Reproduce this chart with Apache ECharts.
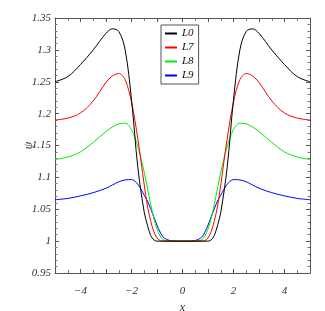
<!DOCTYPE html>
<html>
<head>
<meta charset="utf-8">
<script src="https://cdn.jsdelivr.net/npm/echarts@6/dist/echarts.min.js"></script>
<style>
html,body{margin:0;padding:0;background:#fff;}
#c{width:325px;height:311px;}
</style>
</head>
<body>
<div id="c"></div>
<script>
var xs = [-5,-4.5,-4,-3.5,-3,-2.75,-2.5,-2.25,-2,-1.75,-1.5,-1.375,-1.25,-1.125,-1,-0.875,-0.75,-0.5,-0.25,0,0.25,0.5,0.75,0.875,1,1.125,1.25,1.375,1.5,1.75,2,2.25,2.5,2.75,3,3.5,4,4.5,5];
var seriesNames = ['L0','L7','L8','L9'];
var L0 = [1.250,1.258,1.277,1.300,1.326,1.333,1.329,1.300,1.222,1.115,1.045,1.025,1.009,1.002,1.000,1.000,1.000,1.000,1.000,1.000,1.000,1.000,1.000,1.000,1.000,1.002,1.009,1.025,1.045,1.115,1.222,1.300,1.329,1.333,1.326,1.300,1.277,1.258,1.250];
var L7 = [1.190,1.193,1.201,1.220,1.249,1.259,1.263,1.253,1.218,1.160,1.088,1.055,1.032,1.015,1.005,1.001,1.000,1.000,1.000,1.000,1.000,1.000,1.000,1.001,1.005,1.015,1.032,1.055,1.088,1.160,1.218,1.253,1.263,1.259,1.249,1.220,1.201,1.193,1.190];
var L8 = [1.128,1.132,1.140,1.155,1.172,1.179,1.184,1.185,1.175,1.148,1.108,1.083,1.058,1.036,1.019,1.008,1.002,1.000,1.000,1.000,1.000,1.000,1.002,1.008,1.019,1.036,1.058,1.083,1.108,1.148,1.175,1.185,1.184,1.179,1.172,1.155,1.140,1.132,1.128];
var L9 = [1.065,1.067,1.071,1.076,1.083,1.088,1.093,1.096,1.0965,1.089,1.072,1.063,1.051,1.038,1.025,1.014,1.006,1.001,1.000,1.000,1.000,1.001,1.006,1.014,1.025,1.038,1.051,1.063,1.072,1.089,1.0965,1.096,1.093,1.088,1.083,1.076,1.071,1.067,1.065];
var xTickLabels = ['−4','−2','0','2','4'];
var colors = ['#000000','#ff0000','#00ee00','#0000ff'];

var FONT = 'Liberation Serif';
function pairs(v){ return xs.map(function(x,i){ return [x, v[i]]; }); }
var allVals = [L0,L7,L8,L9];

var chart = echarts.init(document.getElementById('c'), null, {renderer:'canvas'});
chart.setOption({
  animation:false,
  backgroundColor:'#fff',
  grid:{left:55, top:18, width:255, height:255, outerBoundsMode:'none', containLabel:false},
  legend:{
    orient:'vertical', left:161, top:25,
    data: seriesNames,
    backgroundColor:'#fff', borderColor:'#555', borderWidth:1,
    padding:[3,5,3,3], itemGap:3, itemWidth:12, itemHeight:10,
    itemStyle:{opacity:0},
    textStyle:{fontFamily:FONT, fontStyle:'italic', fontSize:11, color:'#111'}
  },
  xAxis:[{
    type:'value', min:-5, max:5, interval:1,
    name:'x', nameLocation:'middle', nameGap:29, nameMoveOverlap:false,
    nameTextStyle:{fontFamily:FONT, fontStyle:'italic', fontSize:12, color:'#333'},
    axisLine:{show:true, onZero:false, lineStyle:{color:'#555',width:1}},
    axisTick:{show:true, inside:true, length:4, lineStyle:{color:'#555'}},
    minorTick:{show:true, splitNumber:2, length:3, lineStyle:{color:'#777'}},
    splitLine:{show:false},
    axisLabel:{margin:13, fontFamily:FONT, fontStyle:'italic', fontSize:11, color:'#333',
      formatter:function(v){ var r=Math.round(v); if (r%2!==0) return ''; var i=[-4,-2,0,2,4].indexOf(r); return i>=0?xTickLabels[i]:''; }}
  },{
    type:'value', min:-5, max:5, interval:1, position:'top',
    axisLine:{show:true, onZero:false, lineStyle:{color:'#555',width:1}},
    axisTick:{show:true, inside:true, length:4, lineStyle:{color:'#555'}},
    minorTick:{show:true, splitNumber:2, length:3, lineStyle:{color:'#777'}},
    splitLine:{show:false}, axisLabel:{show:false}
  }],
  yAxis:[{
    type:'value', min:0.95, max:1.35, interval:0.05,
    name:'ψ', nameLocation:'middle', nameGap:20, nameMoveOverlap:false,
    nameTextStyle:{fontFamily:FONT, fontStyle:'italic', fontSize:12, color:'#333'},
    axisLine:{show:true, onZero:false, lineStyle:{color:'#555',width:1}},
    axisTick:{show:true, inside:true, length:4, lineStyle:{color:'#555'}},
    minorTick:{show:true, splitNumber:5, length:2.5, lineStyle:{color:'#777'}},
    splitLine:{show:false},
    axisLabel:{margin:4, fontFamily:FONT, fontStyle:'italic', fontSize:11, color:'#333',
      formatter:function(v){ return String(parseFloat(v.toFixed(2))); }}
  },{
    type:'value', min:0.95, max:1.35, interval:0.05, position:'right',
    axisLine:{show:true, onZero:false, lineStyle:{color:'#555',width:1}},
    axisTick:{show:true, inside:true, length:4, lineStyle:{color:'#555'}},
    minorTick:{show:true, splitNumber:5, length:2.5, lineStyle:{color:'#777'}},
    splitLine:{show:false}, axisLabel:{show:false}
  }],
  series: seriesNames.map(function(n,k){
    return {
      name:n, type:'line', xAxisIndex:0, yAxisIndex:0,
      data: pairs(allVals[k]),
      smooth:0.35, symbol:'none', showSymbol:false,
      lineStyle:{color:colors[k], width:1},
      itemStyle:{color:colors[k]},
      z: 10-k
    };
  })
});
</script>
</body>
</html>
